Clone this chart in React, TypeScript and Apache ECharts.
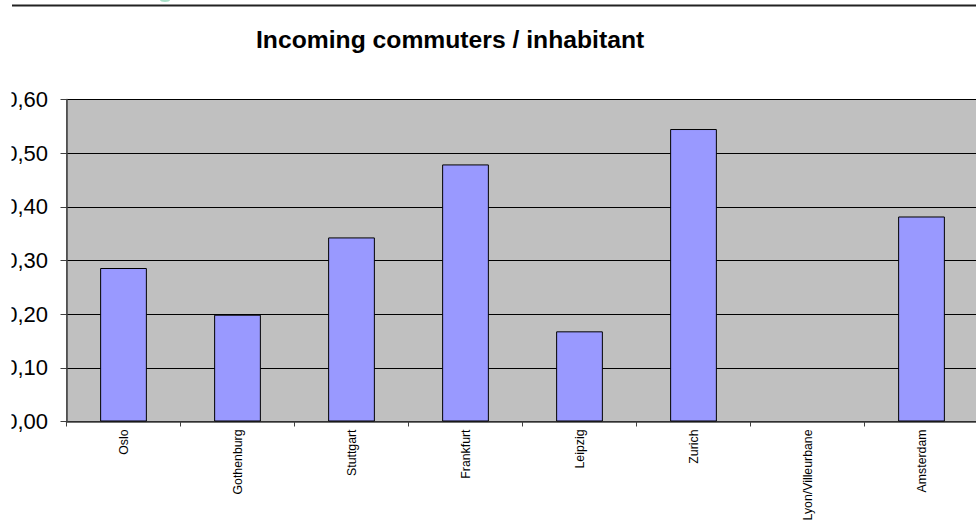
import React, { useEffect, useRef } from "react";
import * as echarts from "echarts";

const titleText = "Incoming commuters / inhabitant";
const categories = [
  "Oslo",
  "Gothenburg",
  "Stuttgart",
  "Frankfurt",
  "Leipzig",
  "Zurich",
  "Lyon/Villeurbane",
  "Amsterdam",
];
const values: (number | null)[] = [0.286, 0.199, 0.343, 0.479, 0.168, 0.545, null, 0.382];
const yMin = 0;
const yMax = 0.6;
const yStep = 0.1;

export default function App() {
  const ref = useRef<HTMLDivElement>(null);
  useEffect(() => {
    if (!ref.current) return;
    const chart = echarts.init(ref.current, undefined, { renderer: "svg" });
    chart.setOption({
      animation: false,
      backgroundColor: "#ffffff",
      textStyle: { fontFamily: "Liberation Sans, Arial, sans-serif" },
      grid: {
        left: 66.5,
        top: 99.5,
        width: 912,
        height: 322,
        show: true,
        backgroundColor: "#C0C0C0",
        borderColor: "#808080",
        borderWidth: 1,
        containLabel: false,
        outerBoundsMode: "none",
      },
      xAxis: {
        type: "category",
        data: categories,
        boundaryGap: true,
        axisLine: { show: true, lineStyle: { color: "#404040", width: 1.5 } },
        axisTick: { show: true, length: 5, interval: 0, lineStyle: { color: "#404040" } },
        axisLabel: {
          interval: 0,
          rotate: 90,
          margin: 8,
          fontSize: 12.3,
          color: "#000",
          fontFamily: "Liberation Sans, Arial, sans-serif",
        },
        splitLine: { show: false },
      },
      yAxis: {
        type: "value",
        min: yMin,
        max: yMax,
        interval: yStep,
        axisLine: { show: true, lineStyle: { color: "#404040", width: 1.5 } },
        axisTick: { show: true, length: 6, lineStyle: { color: "#404040" } },
        axisLabel: {
          margin: 18.5,
          fontSize: 22,
          color: "#000",
          fontFamily: "Liberation Sans, Arial, sans-serif",
          formatter: (v: number) => v.toFixed(2).replace(".", ","),
        },
        splitLine: { show: true, lineStyle: { color: "#000", width: 1 } },
      },
      series: [
        {
          type: "bar",
          data: values,
          barWidth: "41%",
          itemStyle: { color: "#9999FF", borderColor: "#000", borderWidth: 1 },
        },
      ],
      graphic: [
        {
          type: "rect",
          z: 100,
          shape: { x: 0, y: 80, width: 11.5, height: 370 },
          style: { fill: "#ffffff" },
        },
        {
          type: "line",
          z: 100,
          shape: { x1: 12, y1: 5.5, x2: 990, y2: 5.5 },
          style: { stroke: "#222", lineWidth: 2 },
        },
        {
          type: "ellipse",
          z: 100,
          shape: { cx: 165, cy: 0, rx: 5, ry: 2 },
          style: { fill: "#a8e0c8" },
        },
        {
          type: "text",
          z: 100,
          x: 256,
          y: 27,
          style: {
            text: titleText,
            fontSize: 24.7,
            fontWeight: "bold",
            fill: "#000",
            fontFamily: "Liberation Sans, Arial, sans-serif",
          },
        },
      ],
    });
    return () => chart.dispose();
  }, []);
  return (
    <div
      style={{
        position: "fixed",
        left: 0,
        top: 0,
        width: 976,
        height: 521,
        overflow: "hidden",
        background: "#fff",
      }}
    >
      <div ref={ref} style={{ width: 990, height: 521 }} />
    </div>
  );
}
